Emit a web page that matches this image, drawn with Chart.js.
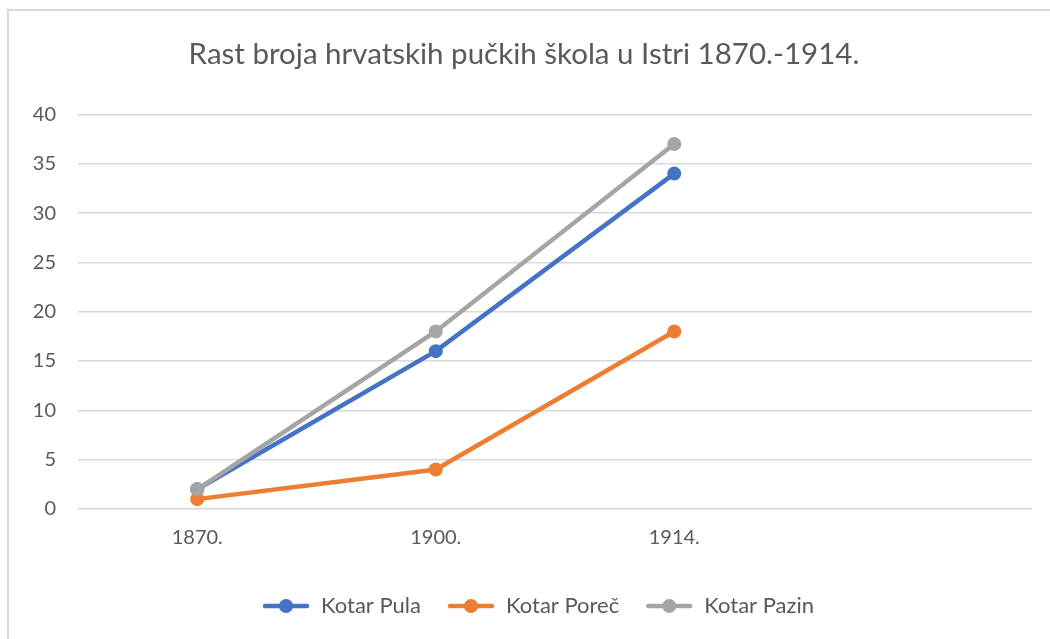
<!DOCTYPE html>
<html>
<head>
<meta charset="utf-8">
<script src="https://cdn.jsdelivr.net/npm/chart.js@4/dist/chart.umd.min.js"></script>
<style>
html,body{margin:0;padding:0;background:#fff;}
#wrap{position:relative;width:1050px;height:639px;}
</style>
</head>
<body>
<div id="wrap"><canvas id="c" width="1050" height="639"></canvas></div>
<script>
const categories = ['1870.', '1900.', '1914.', ''];
const kotarPula = [2, 16, 34, null];
const kotarPorec = [1, 4, 18, null];
const kotarPazin = [2, 18, 37, null];
const seriesNames = ['Kotar Pula', 'Kotar Poreč', 'Kotar Pazin'];
const seriesColors = ['#4472C4', '#ED7D31', '#A5A5A5'];
const titleText = 'Rast broja hrvatskih pučkih škola u Istri 1870.-1914.';

const FONT = 'Lato, "Open Sans", sans-serif';
const TEXT = '#595959';

function legendIcon(color) {
  const c = document.createElement('canvas');
  c.width = 48; c.height = 16;
  const g = c.getContext('2d');
  g.strokeStyle = color; g.lineWidth = 4.5; g.lineCap = 'round';
  g.beginPath(); g.moveTo(3, 8); g.lineTo(45, 8); g.stroke();
  g.fillStyle = color;
  g.beginPath(); g.arc(24, 8, 7, 0, Math.PI * 2); g.fill();
  return c;
}

const frame = {
  id: 'frame',
  beforeDraw(chart) {
    const g = chart.ctx;
    g.save();
    g.strokeStyle = '#d9d9d9';
    g.lineWidth = 2;
    g.beginPath();
    g.moveTo(8, 639); g.lineTo(8, 10); g.lineTo(1050, 10);
    g.stroke();
    g.restore();
  },
  afterLayout(chart) {
    if (chart.legend) { chart.legend.left += 14; chart.legend.right += 14; }
  }
};

const vals = [kotarPula, kotarPorec, kotarPazin];
new Chart(document.getElementById('c'), {
  type: 'line',
  data: {
    labels: categories,
    datasets: vals.map((d, i) => ({
      label: seriesNames[i],
      data: d,
      borderColor: seriesColors[i],
      backgroundColor: seriesColors[i],
      borderWidth: 4.5,
      pointStyle: 'circle',
      pointRadius: 7,
      pointHoverRadius: 7,
      pointBackgroundColor: seriesColors[i],
      pointBorderWidth: 0,
      tension: 0,
      order: 3 - i
    }))
  },
  options: {
    responsive: false,
    animation: false,
    devicePixelRatio: 1,
    layout: { padding: { left: 16, right: 18, top: 0, bottom: 12 } },
    plugins: {
      tooltip: { enabled: false },
      title: {
        display: true,
        text: titleText,
        color: TEXT,
        font: { family: FONT, size: 29.5, weight: 'normal' },
        padding: { top: 37, bottom: 42 }
      },
      legend: {
        position: 'bottom',
        labels: {
          color: TEXT,
          font: { family: FONT, size: 22 },
          usePointStyle: true,
          pointStyleWidth: 48,
          padding: 26,
          generateLabels(chart) {
            return chart.data.datasets.map((ds, i) => ({
              text: ds.label,
              fillStyle: ds.borderColor,
              strokeStyle: ds.borderColor,
              lineWidth: 0,
              pointStyle: legendIcon(ds.borderColor),
              hidden: false,
              datasetIndex: i,
              fontColor: TEXT
            }));
          }
        }
      }
    },
    scales: {
      x: {
        offset: true,
        afterFit(s) { s.height += 10; },
        grid: { display: false },
        border: { display: false },
        ticks: { color: TEXT, font: { family: FONT, size: 20 }, padding: 9 }
      },
      y: {
        min: 0, max: 40,
        afterFit(s) { s.width = 62; },
        grid: { color: '#d9d9d9', lineWidth: 1.5, drawTicks: false },
        border: { display: false },
        ticks: { stepSize: 5, color: TEXT, font: { family: FONT, size: 20 }, padding: 22 }
      }
    }
  },
  plugins: [frame]
});
</script>
</body>
</html>
